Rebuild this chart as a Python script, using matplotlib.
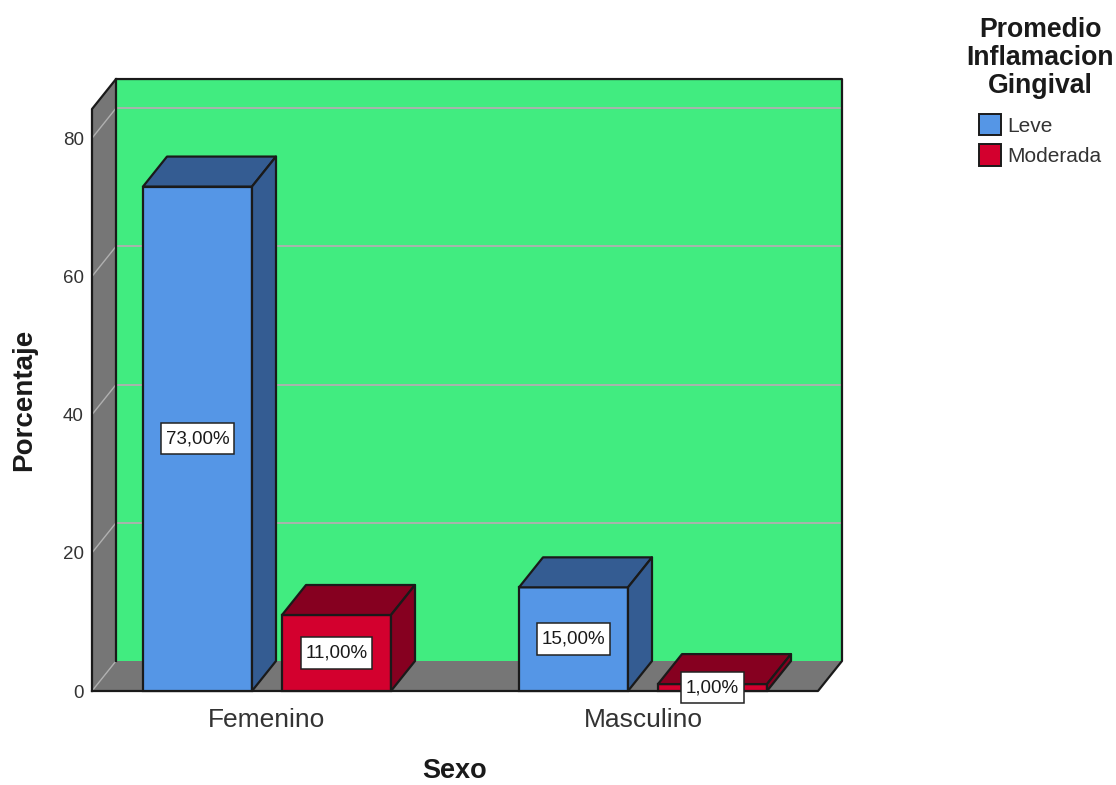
import matplotlib
matplotlib.use('Agg')  # backend sin pantalla

import matplotlib.pyplot as plt
from matplotlib.patches import Patch, Polygon

plt.rcParams['font.family'] = ['Liberation Sans', 'DejaVu Sans']

# datos
categorias = ['Femenino', 'Masculino']
leve = [73, 15]
moderada = [11, 1]
marcas_y = [0, 20, 40, 60, 80]
series = ['Leve', 'Moderada']

AZUL, AZUL_OSC = '#5596E6', '#345C92'
ROJO, ROJO_OSC = '#D3002E', '#860020'
VERDE = '#41EC80'
GRIS = '#767676'
GRIS_LINEA = '#B0B0B0'
NEGRO = '#1A1A1A'

W, H = 1116, 785
fig = plt.figure(figsize=(W / 100, H / 100), dpi=100)
ax = fig.add_axes([92 / W, (H - 691) / H, 750 / W, 613 / H])

# escala: 376 px entre grupos, 6.91 px por unidad de porcentaje
ax.set_xlim(-175 / 376, 575 / 376)
ax.set_ylim(0, 613 / 6.91)
ancho = 109 / 376
sep = 69.5 / 376
dx, dy = 24 / 376, 30 / 6.91  # profundidad del efecto 3D
x0 = ax.get_xlim()[0]
x1 = x0 + (750 - 24) / 376
y_techo = 583 / 6.91 - 0.15


def cara(puntos, color, z, lw=1.6, borde=NEGRO):
    ax.add_patch(Polygon(puntos, closed=True, facecolor=color, edgecolor=borde,
                         linewidth=lw, joinstyle='round', zorder=z, clip_on=False))


# paredes y piso, el piso no lleva borde
cara([(x0 + dx, dy), (x0 + dx, dy + y_techo), (x1 + dx, dy + y_techo), (x1 + dx, dy)], VERDE, 1, borde='none')
cara([(x0, 0), (x0, y_techo), (x0 + dx, y_techo + dy), (x0 + dx, dy)], GRIS, 1, borde='none')
cara([(x0, 0), (x0 + dx, dy), (x1 + dx, dy), (x1, 0)], GRIS, 1, borde='none')

# lineas de la cuadricula sobre las paredes
for v in marcas_y:
    ax.plot([x0, x0 + dx], [v, v + dy], color=GRIS_LINEA, linewidth=1.0, zorder=2, clip_on=False)
    if v > 0:
        ax.plot([x0 + dx, x1 + dx], [v + dy, v + dy], color=GRIS_LINEA, linewidth=1.3,
                zorder=2, clip_on=False)

# bordes negros de las paredes
ax.plot([x0, x0, x0 + dx, x1 + dx, x1 + dx, x1, x0],
        [0, y_techo, y_techo + dy, y_techo + dy, dy, 0, 0],
        color=NEGRO, linewidth=1.6, zorder=2.5, clip_on=False)
ax.plot([x0 + dx, x0 + dx], [dy, y_techo + dy], color=NEGRO, linewidth=1.6, zorder=2.5,
        clip_on=False)


def barra(x, valor, color, oscuro):
    izq, der = x - ancho / 2, x + ancho / 2
    ax.bar(x, valor, ancho, color=color, edgecolor=NEGRO, linewidth=1.6, zorder=3,
           clip_on=False)
    cara([(izq, valor), (izq + dx, valor + dy), (der + dx, valor + dy), (der, valor)], oscuro, 3)
    cara([(der, 0), (der, valor), (der + dx, valor + dy), (der + dx, dy)], oscuro, 3)
    ax.text(x, valor / 2, f'{valor:.2f}%'.replace('.', ','), ha='center', va='center',
            fontsize=13.5, color=NEGRO, zorder=6, clip_on=False,
            bbox=dict(boxstyle='square,pad=0.24', mutation_aspect=1.6, facecolor='white',
                      edgecolor='#222222', linewidth=1.1))


for i in range(len(categorias)):
    barra(i - sep, leve[i], AZUL, AZUL_OSC)
    barra(i + sep, moderada[i], ROJO, ROJO_OSC)

ax.set_xticks(range(len(categorias)), categorias, fontsize=19, color='#333333')
ax.set_yticks(marcas_y, [str(v) for v in marcas_y], fontsize=13.5, color='#333333')
ax.tick_params(axis='x', length=0, pad=12.5)
ax.tick_params(axis='y', length=0, pad=6)
for s in ax.spines.values():
    s.set_visible(False)
ax.patch.set_visible(False)

# titulos de los ejes
fig.text(455 / W, 1 - 771 / H, 'Sexo', fontsize=19.5, fontweight='bold', ha='center',
         va='center', color=NEGRO)
fig.text(24 / W, 1 - 400 / H, 'Porcentaje', fontsize=20, fontweight='bold', rotation=90,
         ha='center', va='center', color=NEGRO)

# leyenda
fig.text(1040.5 / W, 1 - 58 / H, 'Promedio\nInflamacion\nGingival', fontsize=19.2,
         fontweight='bold', ha='center', va='center', linespacing=1.12, color=NEGRO)
manejadores = [Patch(facecolor=AZUL, edgecolor=NEGRO, linewidth=1.4),
               Patch(facecolor=ROJO, edgecolor=NEGRO, linewidth=1.4)]
fig.legend(manejadores, series, loc='upper left', bbox_to_anchor=(979 / W, 1 - 114 / H),
           frameon=False, fontsize=15, handlelength=1.05, handleheight=1.2,
           handletextpad=0.3, labelspacing=0.42, borderpad=0, borderaxespad=0,
           labelcolor='#333333')

fig.savefig('out.png', dpi=100)
